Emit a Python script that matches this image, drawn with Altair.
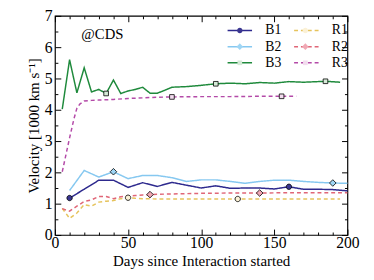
import altair as alt
import pandas as pd

# ---------------- data ----------------
days_b1 = [10, 20, 30, 40, 50, 60, 70, 80, 90, 100, 110, 120, 130, 140, 150, 160, 170, 180, 190, 200]
b1 = [1.18, 1.46, 1.75, 1.75, 1.52, 1.67, 1.55, 1.68, 1.59, 1.50, 1.57, 1.49, 1.50, 1.50, 1.47, 1.54, 1.46, 1.46, 1.45, 1.41]

days_b2 = [10, 20, 30, 40, 50, 60, 70, 80, 90, 100, 110, 120, 130, 140, 150, 160, 170, 180, 190, 200]
b2 = [1.42, 2.06, 1.85, 2.02, 1.80, 1.90, 1.90, 1.83, 1.71, 1.76, 1.76, 1.71, 1.65, 1.71, 1.75, 1.75, 1.71, 1.68, 1.66, 1.65]

days_b3 = [5, 10, 15, 20, 25, 30, 35, 40, 45, 50, 55, 60, 65, 70, 75, 80, 90, 100, 110, 120, 130, 140, 150, 160, 170, 185, 195]
b3 = [4.02, 5.60, 4.54, 5.34, 4.57, 4.65, 4.52, 4.95, 4.52, 4.60, 4.65, 4.72, 4.53, 4.53, 4.62, 4.72, 4.74, 4.78, 4.83, 4.85, 4.83, 4.87, 4.85, 4.90, 4.88, 4.91, 4.88]

days_r1 = [5, 10, 15, 20, 25, 30, 35, 40, 45, 50, 55, 60, 70, 80, 100, 125, 150, 175, 195]
r1 = [0.85, 0.53, 0.70, 0.97, 0.92, 1.05, 1.08, 1.10, 1.16, 1.19, 1.17, 1.16, 1.15, 1.15, 1.15, 1.15, 1.15, 1.15, 1.15]

days_r2 = [5, 10, 15, 20, 25, 30, 35, 40, 45, 50, 55, 60, 65, 70, 80, 90, 100, 120, 140, 160, 180, 200]
r2 = [0.84, 0.76, 0.92, 1.07, 1.12, 1.23, 1.23, 1.16, 1.22, 1.24, 1.26, 1.28, 1.29, 1.30, 1.31, 1.32, 1.33, 1.34, 1.34, 1.35, 1.35, 1.35]

days_r3 = [5, 10, 13, 15, 17, 20, 25, 30, 40, 50, 60, 70, 80, 100, 120, 140, 155, 165]
r3 = [2.02, 3.10, 3.71, 4.05, 4.18, 4.28, 4.30, 4.31, 4.33, 4.36, 4.38, 4.40, 4.41, 4.42, 4.42, 4.43, 4.43, 4.43]

# days carrying a marker symbol
mk_b1 = [10, 160]
mk_b2 = [40, 190]
mk_b3 = [35, 110, 185]
mk_r1 = [50, 125]
mk_r2 = [65, 140]
mk_r3 = [80, 155]

names = ["B1", "B2", "B3", "R1", "R2", "R3"]
colors = ["#2e2a8e", "#86c8f0", "#1f8a3c", "#e6c35c", "#e06677", "#b44aa8"]
marker_fills = ["#3a3690", "#9fd6f5", "#d4ead6", "#fbf1d6", "#f0a8b4", "#f2dcee"]
dashes = [[1, 0], [1, 0], [1, 0], [4, 3], [4, 3], [4, 3]]

# marker outlines (the leading moveTo pair gives every symbol the legend-line's extent)
SPAN = "M-5,0M5,0"
CIRCLE = SPAN + "M1.1,0A1.1,1.1,0,1,1,-1.1,0A1.1,1.1,0,1,1,1.1,0Z"
DIAMOND = SPAN + "M0,-1.35L1.35,0L0,1.35L-1.35,0Z"
SQUARE = SPAN + "M-0.95,-0.95H0.95V0.95H-0.95Z"
shapes = [CIRCLE, DIAMOND, SQUARE, CIRCLE, DIAMOND, SQUARE]

x_major = [0, 50, 100, 150, 200]
x_minor = [10, 20, 30, 40, 60, 70, 80, 90, 110, 120, 130, 140, 160, 170, 180, 190]
y_major = [0, 1, 2, 3, 4, 5, 6, 7]
y_minor = [0.5, 1.5, 2.5, 3.5, 4.5, 5.5, 6.5]

# ---------------- tables ----------------
series = {
    "B1": (days_b1, b1, mk_b1),
    "B2": (days_b2, b2, mk_b2),
    "B3": (days_b3, b3, mk_b3),
    "R1": (days_r1, r1, mk_r1),
    "R2": (days_r2, r2, mk_r2),
    "R3": (days_r3, r3, mk_r3),
}
rows, mrows = [], []
for name, (dd, vv, mk) in series.items():
    for d, v in zip(dd, vv):
        rows.append({"series": name, "day": d, "v": v})
        if d in mk:
            mrows.append({"mk": name, "day": d, "v": v})
lines_df = pd.DataFrame(rows)
marks_df = pd.DataFrame(mrows)

FONT = "Liberation Serif"
xscale = alt.Scale(domain=[0, 200], nice=False, zero=False)
yscale = alt.Scale(domain=[0, 7], nice=False, zero=False)


def axis(orient, values, size, labels=False, title=None, lpad=0, tpad=3):
    kw = dict(orient=orient, values=values, tickSize=size, offset=-size, domain=False,
              grid=False, labels=labels, tickColor="black", tickWidth=1)
    if labels:
        kw.update(labelFont=FONT, labelFontSize=16, labelColor="black", labelPadding=lpad,
                  labelFlush=False, labelOverlap=False, format="d")
    if title:
        kw.update(title=title, titleFont=FONT, titleFontSize=15.3, titleFontWeight="normal",
                  titleColor="black", titlePadding=tpad)
    else:
        kw.update(title=None)
    return alt.Axis(**kw)


LEG = dict(orient="none", legendX=182, legendY=8, columns=2, direction="vertical", title=None,
           labelFont=FONT, labelFontSize=14, symbolSize=25, labelOffset=19,
           columnPadding=9, rowPadding=2.5, padding=0)
leg_lines = alt.Legend(labelColor="black", symbolType="M-5,0H5", symbolStrokeWidth=1.5, **LEG)
leg_marks = alt.Legend(labelColor="transparent", symbolStrokeColor="black", symbolStrokeWidth=0.8, **LEG)

lines = alt.Chart(lines_df).mark_line(strokeWidth=1.5).encode(
    x=alt.X("day:Q", scale=xscale, axis=axis("bottom", x_major, 6, True, "Days since Interaction started", 0, 3)),
    y=alt.Y("v:Q", scale=yscale, axis=axis("left", y_major, 6, True, "Velocity [1000 km s\u207b\u00b9]", 3, 3)),
    color=alt.Color("series:N", scale=alt.Scale(range=colors), legend=leg_lines),
    strokeDash=alt.StrokeDash("series:N", scale=alt.Scale(range=dashes), legend=leg_lines),
    order="day:Q",
)

markers = alt.Chart(marks_df).mark_point(filled=True, size=25, stroke="black", strokeWidth=0.8, opacity=1).encode(
    x=alt.X("day:Q", scale=xscale, axis=axis("bottom", x_minor, 3)),
    y=alt.Y("v:Q", scale=yscale, axis=axis("left", y_minor, 3)),
    fill=alt.Fill("mk:N", scale=alt.Scale(range=marker_fills), legend=leg_marks),
    shape=alt.Shape("mk:N", scale=alt.Scale(range=shapes), legend=leg_marks),
)

top_major = alt.Chart(lines_df).mark_point().encode(
    x=alt.X("day:Q", scale=xscale, axis=axis("top", x_major, 6)),
    y=alt.Y("v:Q", scale=yscale, axis=axis("right", y_major, 6)),
).transform_filter("false")

top_minor = alt.Chart(lines_df).mark_point().encode(
    x=alt.X("day:Q", scale=xscale, axis=axis("top", x_minor, 3)),
    y=alt.Y("v:Q", scale=yscale, axis=axis("right", y_minor, 3)),
).transform_filter("false")

label = alt.Chart(pd.DataFrame({"t": ["@CDS"]})).mark_text(
    font=FONT, fontSize=15, color="black", align="left", baseline="middle"
).encode(text="t:N", x=alt.value(27), y=alt.value(19))

chart = alt.layer(lines, markers, top_major, top_minor, label).resolve_axis(
    x="independent", y="independent"
).properties(
    width=299, height=224,
    autosize=alt.AutoSizeParams(type="none"),
    padding={"left": 48, "top": 5, "right": 19, "bottom": 43},
).configure_view(stroke="black", strokeWidth=1.2)

chart.save("out.html", embed_options={"renderer": "svg", "actions": False})
